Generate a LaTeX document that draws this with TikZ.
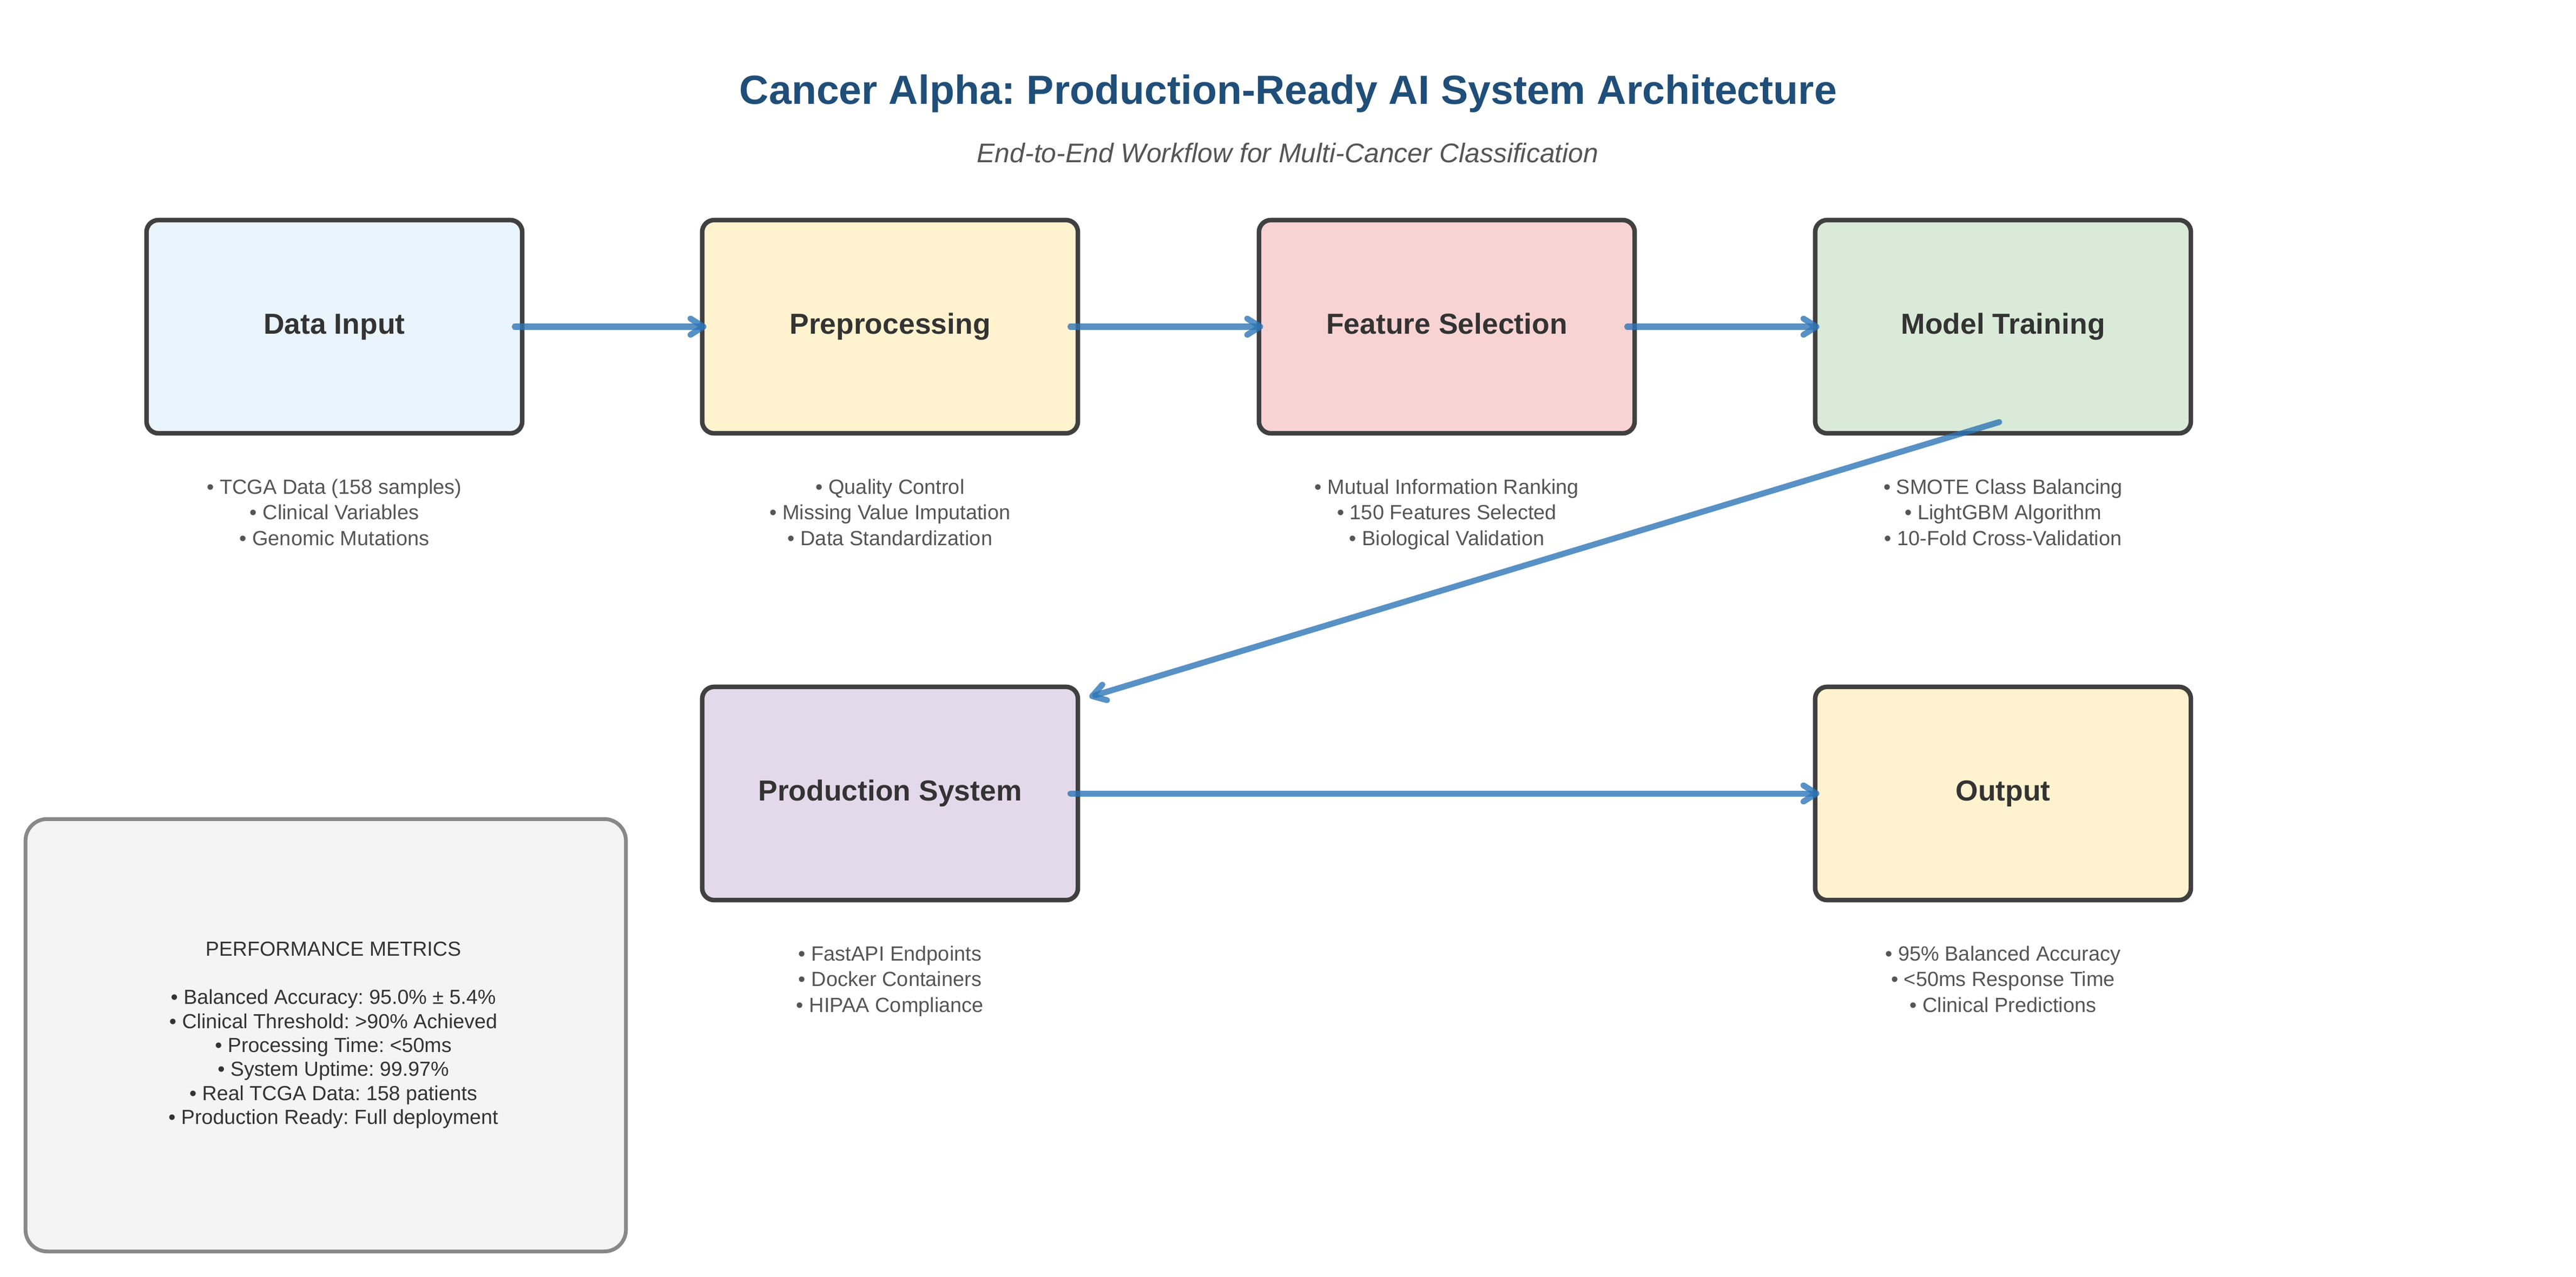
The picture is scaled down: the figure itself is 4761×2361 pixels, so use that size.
\documentclass[tikz,border=0pt]{standalone}
\usepackage{fontspec}
\setmainfont{Liberation Sans}
\usetikzlibrary{arrows.meta}
\frenchspacing
\definecolor{boxborder}{HTML}{404040}
\definecolor{arrowblue}{HTML}{2E75B6}
\definecolor{titleblue}{HTML}{1F4E79}
\definecolor{subgray}{HTML}{555555}
\definecolor{labelgray}{HTML}{333333}
\definecolor{fillblue}{HTML}{EAF4FD}
\definecolor{fillyellow}{HTML}{FFF2CF}
\definecolor{fillred}{HTML}{F8D3D3}
\definecolor{fillgreen}{HTML}{D9EAD8}
\definecolor{fillpurple}{HTML}{E4D9EA}
\definecolor{fillmetric}{HTML}{F4F4F4}
\definecolor{metricborder}{HTML}{888888}
\begin{document}
\frenchspacing
\begin{tikzpicture}[x=0.01cm,y=-0.01cm,
  stage/.style={draw=boxborder, line width=2.4pt, rounded corners=0.22cm,
    minimum width=6.94cm, minimum height=3.94cm, inner sep=0pt,
    font=\fontsize{15.2}{18}\selectfont\bfseries, text=labelgray,
    text height=10.9pt, text depth=3.2pt},
  bullets/.style={anchor=north, inner sep=0pt, align=center, text=subgray,
    font=\fontsize{10.8}{13.5}\selectfont},
  flow/.style={draw=arrowblue, draw opacity=0.8, line width=3.13pt, line cap=round,
    -{Straight Barb[length=0.24cm,width=0.3cm,round]}},
  metricbox/.style={draw=metricborder, fill=fillmetric, line width=1.99pt,
    rounded corners=0.4cm, minimum width=11.09cm, minimum height=7.99cm, inner sep=0pt},
  metrictext/.style={inner sep=0pt, align=center, text=labelgray,
    font=\fontsize{10.7}{12.63}\selectfont}
]
\useasboundingbox (0,0) rectangle (4761,2361);

% titles
\node[anchor=base, text=titleblue, font=\fontsize{21.4}{25}\selectfont\bfseries]
  (title) at (2381,193) {Cancer Alpha: Production-Ready AI System Architecture};
\node[anchor=base, text=subgray, font=\fontsize{14.2}{17}\selectfont\itshape]
  (subtitle) at (2380,301) {End-to-End Workflow for Multi-Cancer Classification};

% stages
\node[stage, fill=fillblue]   (di)  at (618,604)  {Data Input};
\node[stage, fill=fillyellow] (pp)  at (1645,604) {Preprocessing};
\node[stage, fill=fillred]    (fs)  at (2674,604) {Feature Selection};
\node[stage, fill=fillgreen]  (mt)  at (3702,604) {Model Training};
\node[stage, fill=fillpurple] (ps)  at (1645,1467) {Production System};
\node[stage, fill=fillyellow] (out) at (3702,1467) {Output};

% bullet descriptions
\node[bullets] (dit) at ([yshift=-0.795cm]di.south)
  {• TCGA Data (158 samples)\\• Clinical Variables\\• Genomic Mutations};
\node[bullets] (ppt) at ([yshift=-0.795cm]pp.south)
  {• Quality Control\\• Missing Value Imputation\\• Data Standardization};
\node[bullets] (fst) at ([yshift=-0.795cm]fs.south)
  {• Mutual Information Ranking\\• 150 Features Selected\\• Biological Validation};
\node[bullets] (mtt) at ([yshift=-0.795cm]mt.south)
  {• SMOTE Class Balancing\\• LightGBM Algorithm\\• 10-Fold Cross-Validation};
\node[bullets] (pst) at ([yshift=-0.795cm]ps.south)
  {• FastAPI Endpoints\\• Docker Containers\\• HIPAA Compliance};
\node[bullets] (outt) at ([yshift=-0.795cm]out.south)
  {• 95\% Balanced Accuracy\\• <50ms Response Time\\• Clinical Predictions};

% connectors
\draw[flow] ([xshift=-0.18cm]di.east) -- ([xshift=0.12cm]pp.west);
\draw[flow] ([xshift=-0.18cm]pp.east) -- ([xshift=0.12cm]fs.west);
\draw[flow] ([xshift=-0.18cm]fs.east) -- ([xshift=0.12cm]mt.west);
\draw[flow] ([xshift=-0.07cm,yshift=0.25cm]mt.south) -- ([xshift=0.17cm,yshift=-0.23cm]ps.north east);
\draw[flow] ([xshift=-0.18cm]ps.east) -- ([xshift=0.12cm]out.west);

% metrics panel
\node[metricbox] (metrics) at (602,1914) {};
\node[metrictext] (metricst) at ([xshift=0.14cm]metrics.center)
  {PERFORMANCE METRICS\\[12.63pt]
   • Balanced Accuracy: 95.0\% ± 5.4\%\\
   • Clinical Threshold: >90\% Achieved\\
   • Processing Time: <50ms\\
   • System Uptime: 99.97\%\\
   • Real TCGA Data: 158 patients\\
   • Production Ready: Full deployment};
\end{tikzpicture}
\end{document}
